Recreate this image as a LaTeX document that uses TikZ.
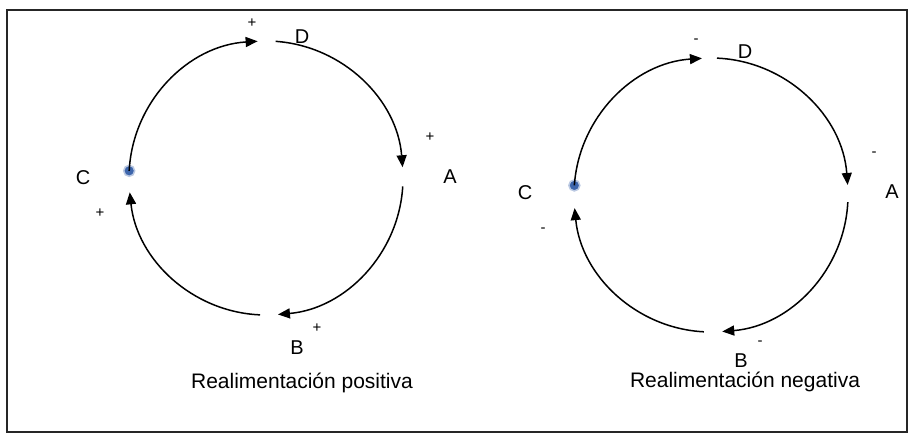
\documentclass[tikz,border=0pt]{standalone}
\usepackage{fontspec}
\setmainfont{Liberation Sans}
\usetikzlibrary{arrows.meta,calc}
\definecolor{dotblue}{RGB}{62,102,172}
\tikzset{
  loop/.style={line width=1.5pt, black, -{Triangle[length=12pt,width=10pt]}},
  lbl/.style={font=\fontsize{20}{22}\selectfont, inner sep=0pt},
  sgn/.style={font=\fontsize{15}{16}\selectfont, inner sep=0pt},
  ttl/.style={font=\fontsize{21}{23}\selectfont, inner sep=0pt},
  dot/.style={circle, fill=dotblue, draw=dotblue!35, line width=1.5pt, inner sep=0pt, minimum size=11pt}
}
\begin{document}
\begin{tikzpicture}[x=1pt,y=1pt]
\useasboundingbox (0,0) rectangle (910,437);
\draw[line width=2pt, black!85] (7,5) rectangle (907,427);

% ---------- left loop (positive) ----------
\coordinate (cL) at (266,259);
\coordinate (dLs) at ($(cL)+(86:137)$);
\coordinate (aLs) at ($(cL)+(-3.5:137)$);
\coordinate (bLs) at ($(cL)+(-92.5:137)$);
\node[dot] (cLdot) at ($(cL)+(177:137)$) {};
\draw[loop] (dLs) arc[start angle=86, end angle=4.5, radius=137];
\draw[loop] (aLs) arc[start angle=-3.5, end angle=-85, radius=137];
\draw[loop] (bLs) arc[start angle=-92.5, end angle=-174, radius=137];
\draw[loop] (cLdot.center) arc[start angle=177, end angle=93.5, radius=137];

\node[sgn] (pD) at (252,414) {+};
\node[lbl] (lD) at (302,400) {D};
\node[sgn] (pA) at (430,300) {+};
\node[lbl] (lA) at (450,260) {A};
\node[sgn] (pB) at (317,109) {+};
\node[lbl] (lB) at (297,89) {B};
\node[lbl] (lC) at (83,259) {C};
\node[sgn] (pC) at (100,224) {+};
\node[ttl] (tL) at (302,54) {Realimentación positiva};

% ---------- right loop (negative) ----------
\coordinate (cR) at (711,242);
\coordinate (dRs) at ($(cR)+(87.5:137)$);
\coordinate (aRs) at ($(cR)+(-3:137)$);
\coordinate (bRs) at ($(cR)+(-93:137)$);
\node[dot] (cRdot) at ($(cR)+(176:137)$) {};
\draw[loop] (dRs) arc[start angle=87.5, end angle=4.2, radius=137];
\draw[loop] (aRs) arc[start angle=-3, end angle=-85.3, radius=137];
\draw[loop] (bRs) arc[start angle=-93, end angle=-174.5, radius=137];
\draw[loop] (cRdot.center) arc[start angle=176, end angle=93.8, radius=137];

\node[sgn] (mD) at (696,396) {-};
\node[lbl] (rD) at (745,385) {D};
\node[sgn] (mA) at (874,283) {-};
\node[lbl] (rA) at (892,245) {A};
\node[sgn] (mB) at (760,94) {-};
\node[lbl] (rB) at (741,76) {B};
\node[lbl] (rC) at (525,244) {C};
\node[sgn] (mC) at (543,207) {-};
\node[ttl] (tR) at (745,55) {Realimentación negativa};
\end{tikzpicture}
\end{document}
